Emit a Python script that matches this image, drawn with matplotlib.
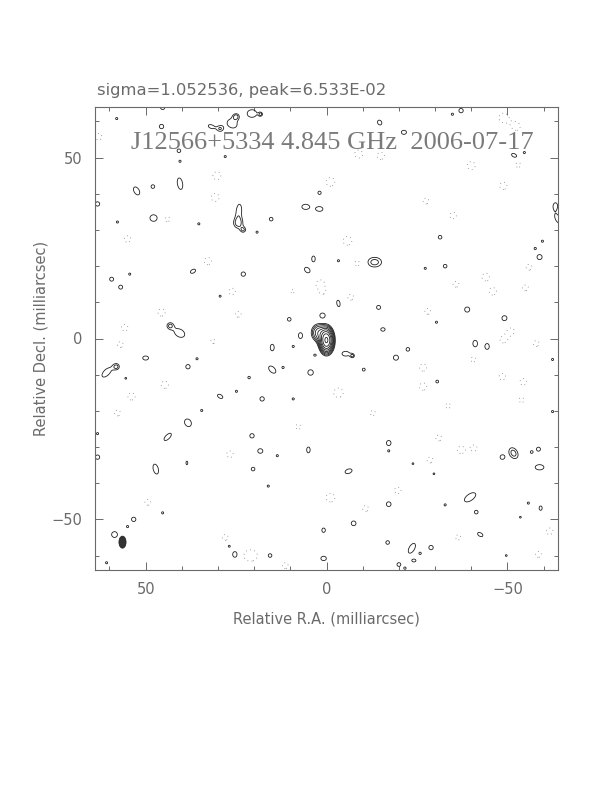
import numpy as np
import matplotlib
matplotlib.use("Agg")
import matplotlib.pyplot as plt
from matplotlib.patches import Ellipse
from matplotlib.ticker import MultipleLocator

# ---------------- data ----------------
title_text = "J12566+5334 4.845 GHz  2006-07-17"
header_text = "sigma=1.052536, peak=6.533E-02"
xlabel_text = "Relative R.A. (milliarcsec)"
ylabel_text = "Relative Decl. (milliarcsec)"

# core components: position (mas), amplitude (in units of lowest contour), FWHM (mas)
core_x = [0.0, 2.2, 3.2]
core_y = [-0.5, 1.6, -4.6]
core_amp = [17.0, 3.5, 1.25]
core_fwhm_x = [2.4, 3.0, 1.2]
core_fwhm_y = [4.3, 3.6, 1.0]

# positive noise features: centre, contour semi-major radius, axis ratio, angle, peak
pos_x = [45.3, 45.6, 31.9, 26.1, 25.0, 20.6, 29.4, 40.8, 40.5, 52.5, 48.0, 40.5, 63.3,
         24.2, 24.4, 23.0, 47.8, 35.3, 57.8, 36.9, 23.0, 59.4, 56.9, 54.4, 29.4, 43.3,
         40.6, 28.0, 58.0, 18.2,
         -14.7, -21.4, 1.9, 5.8, 1.9, 15.3, 19.2, 3.6, 5.3, -13.3, -3.3, -14.4, 1.1,
         10.3, 7.2, -15.6, -3.3,
         -37.2, -34.8, -51.9, -54.7, -63.3, -64.0, -59.7, -57.7, -58.9, -31.4, -32.8,
         -27.3, -38.9, -49.2, -30.4,
         50.0, 60.8, 58.0, 38.3, 35.8, 21.4, 29.4, 24.9, 38.3, 43.9, 20.6, 63.3, 47.2,
         38.6, 20.3, 53.3, 55.0, 58.6, 45.3, 25.3, 26.9, 63.3, 60.8, 55.5, 34.5,
         15.0, 9.2, -5.3, -7.2, -22.5, -19.2, 15.0, 12.0, 4.4, -10.3, 17.8, 9.2, 18.3,
         5.0, 13.6, -17.2, -17.2, -6.1, 16.1, -17.2, -7.5, 0.8, -16.9, 15.6, 0.8,
         -20.0, -21.7,
         -41.1, -44.4, -30.6, -62.5, -62.5, -51.7, -48.6, -56.7, -58.6, -58.9, -23.9,
         -29.7, -39.7, -41.4, -32.8, -55.8, -59.2, -53.6, -42.5, -23.6, -28.9, -25.9,
         -24.2, -49.7]
pos_y = [63.9, 58.6, 58.6, 59.4, 61.4, 62.2, 58.0, 51.9, 49.0, 40.8, 42.0, 42.8, 37.2,
         35.3, 31.8, 30.0, 33.3, 31.7, 32.2, 18.6, 17.8, 16.4, 14.2, 17.8, 11.7, 3.6,
         1.5, 50.3, 60.8, 62.0,
         59.7, 57.0, 40.3, 36.4, 35.8, 33.0, 29.4, 22.0, 18.9, 21.1, 9.7, 8.6, 6.4,
         5.3, 0.8, 2.5, 21.5,
         63.0, 62.0, 50.6, 51.4, 36.7, 33.0, 26.9, 24.9, 22.5, 28.0, 20.0,
         19.4, 8.0, 5.6, 4.5,
         -5.4, -9.4, -7.8, -7.8, -5.6, -10.8, -16.0, -14.6, -23.3, -27.2, -26.9, -32.8,
         -36.1, -34.4, -36.1, -50.0, -52.0, -54.2, -48.2, -59.7, -57.4, -26.3, -62.0,
         -11.0, -19.9,
         -2.5, -2.2, -4.2, -4.8, -3.0, -5.3, -8.6, -8.0, -9.4, -8.6, -16.7, -16.7,
         -31.1, -30.8, -32.4, -28.9, -31.1, -36.7, -40.8, -45.8, -51.1, -53.0, -56.4,
         -60.0, -60.8, -62.5, -63.5,
         -1.4, -2.2, -11.9, -5.8, -20.2, -31.7, -32.8, -31.4, -30.6, -35.6, -34.6,
         -37.4, -43.9, -48.0, -46.0, -45.5, -46.9, -49.4, -54.2, -58.0, -57.8, -59.4,
         -61.4, -60.0]
pos_r = [0.6, 0.6, 0.8, 1.4, 0.5, 1.3, 0.6, 0.5, 0.3, 1.2, 0.5, 1.6, 0.6,
         1.8, 0.9, 0.5, 1.0, 0.3, 0.3, 0.8, 0.6, 0.55, 0.55, 0.3, 0.3, 0.6,
         1.5, 0.3, 0.3, 0.3,
         0.7, 0.7, 0.5, 1.0, 0.9, 0.5, 0.3, 0.8, 0.9, 1.9, 0.9, 0.55, 0.7,
         0.5, 0.8, 0.6, 0.3,
         0.6, 0.3, 0.8, 0.3, 0.8, 1.3, 0.3, 0.3, 0.7, 0.5, 0.5,
         0.3, 0.7, 0.7, 0.3,
         0.8, 1.6, 0.55, 0.6, 0.3, 0.35, 0.8, 0.3, 1.1, 1.3, 0.6, 0.6, 1.4,
         0.5, 0.5, 0.6, 0.3, 0.8, 0.3, 0.8, 0.3, 0.3, 0.3, 0.25, 0.3,
         0.9, 0.3, 1.0, 0.35, 0.5, 0.7, 1.2, 0.3, 0.75, 0.4, 0.6, 0.3, 0.7,
         0.8, 0.3, 0.7, 0.25, 1.0, 0.3, 0.65, 0.65, 0.6, 0.5, 0.5, 0.75,
         0.5, 0.3,
         0.9, 0.8, 0.4, 0.3, 0.3, 1.6, 0.6, 0.35, 0.55, 1.2, 0.25,
         0.25, 1.8, 0.5, 0.3, 0.3, 0.6, 0.25, 0.8, 1.5, 0.6, 0.3,
         0.5, 0.25]
pos_ratio = [1, 1, 0.6, 0.8, 1, 0.8, 1, 1, 1, 0.6, 1, 0.45, 1,
             0.4, 1, 1, 0.9, 1, 1, 0.6, 1, 1, 1, 1, 1, 1,
             0.7, 1, 1, 1,
             0.8, 0.8, 1, 0.7, 0.7, 1, 1, 0.6, 0.7, 0.7, 0.5, 1, 0.9,
             1, 0.7, 0.8, 1,
             1, 1, 0.6, 1, 0.7, 0.5, 1, 1, 1, 1, 1,
             1, 1, 1, 1,
             0.7, 0.5, 1, 1, 1, 1, 0.6, 1, 0.8, 0.45, 1, 1, 0.5,
             0.5, 1, 1, 1, 1, 1, 0.8, 1, 1, 1, 1, 1,
             0.6, 1, 0.65, 1, 1, 1, 0.6, 1, 1, 1, 1, 1, 0.9,
             0.6, 1, 0.9, 1, 0.6, 1, 1, 1, 0.8, 1, 1, 0.8,
             1, 1,
             0.7, 0.75, 1, 1, 1, 0.7, 1, 1, 1, 0.6, 1,
             1, 0.5, 1, 1, 1, 0.7, 1, 0.6, 0.5, 1, 1,
             0.7, 1]
pos_angle = [0, 0, 20, 30, 0, 0, 0, 0, 0, 60, 0, 80, 0,
             95, 0, 0, 0, 0, 0, -30, 0, 0, 0, 0, 0, 0,
             30, 0, 0, 0,
             60, 0, 0, 0, 0, 0, 0, 90, 45, 0, 80, 0, 0,
             0, 90, 0, 0,
             0, 0, 30, 0, 90, 60, 0, 0, 0, 0, 0,
             0, 0, 0, 0,
             0, -45, 0, 0, 0, 0, 30, 0, 60, -45, 0, 0, 75,
             90, 0, 0, 0, 0, 0, 90, 0, 0, 0, 0, 0,
             90, 0, 0, 0, 0, 0, 45, 0, 0, 0, 0, 0, 0,
             90, 0, 90, 0, -20, 0, 0, 0, 90, 0, 0, 0,
             0, 0,
             90, 90, 0, 0, 0, 60, 0, 0, 0, 0, 0,
             0, -35, 0, 0, 0, 90, 0, 30, -60, 0, 0,
             0, 0]
pos_peak = [1.3] * len(pos_x)
pos_peak[39] = 1.65                      # feature at (-13.3, 21.1) has an inner contour
pos_peak[pos_x.index(-51.7)] = 1.65      # feature at (-51.7, -31.7) has an inner contour

# negative noise features (dotted contours)
neg_x = [30.3, 30.8, 55.0, 32.8, 45.6, 55.8, 26.1, 24.4, 63.0, 44.0,
         -1.1, -8.9, -15.0, -5.8, 1.7, -8.6, -6.7,
         -49.0, -52.5, -40.0, -48.9, -35.0, -27.5, -44.0, -46.0, -35.8, -55.0, -56.0,
         -28.0, -51.0, -53.0,
         57.0, 44.7, 53.9, 57.8, 26.7, 49.4, 21.7, 31.4, 28.0,
         -3.3, -1.1, -10.8, -12.8, 7.8, -19.7, 11.4, 20.3,
         -48.9, -58.0, -26.7, -26.7, -48.6, -54.4, -37.2, -40.6, -28.6, -61.7, -58.6,
         -36.4, -33.6, -53.9, -40.8, -31.0, 9.4, 1.1]
neg_y = [45.0, 39.0, 27.5, 21.4, 7.2, 3.0, 13.0, 6.7, 55.8, 33.0,
         43.3, 51.0, 50.5, 27.0, 15.0, 20.8, 11.4,
         61.0, 58.6, 47.8, 42.2, 34.0, 38.0, 17.0, 13.0, 15.0, 14.0, 19.7,
         7.5, 2.0, 48.0,
         -1.7, -12.8, -16.0, -20.6, -32.0, -45.3, -60.0, -0.8, -55.0,
         -15.0, -44.0, -47.0, -20.6, -24.4, -42.0, -62.8, -60.0,
         -0.3, -1.4, -8.0, -13.3, -10.6, -12.0, -30.8, -5.8, -33.6, -53.3, -59.7,
         -55.0, -18.6, -17.0, -30.3, -27.5, 13.0, 13.0]
neg_r = [1.1, 1.1, 0.9, 1.0, 1.0, 0.9, 0.9, 0.8, 0.9, 0.7,
         1.2, 1.1, 1.0, 1.2, 1.2, 0.8, 0.8,
         1.3, 1.0, 1.1, 1.0, 0.9, 0.8, 1.0, 1.0, 0.8, 0.8, 0.8,
         0.8, 0.9, 0.7,
         0.8, 1.0, 1.0, 0.8, 0.9, 0.8, 0.9, 0.6, 0.8,
         1.3, 1.2, 0.8, 0.7, 0.7, 0.9, 0.8, 0.9,
         0.9, 0.8, 1.0, 1.0, 0.9, 0.9, 1.0, 0.7, 0.8, 0.9, 0.8,
         0.7, 0.7, 0.7, 0.8, 0.8, 0.5, 0.5]

# restoring beam (mas)
beam_x, beam_y = 56.4, -56.3
beam_major, beam_minor, beam_pa = 3.3, 1.95, 0.0

contour_levels = [1.0, 1.414, 2.0, 2.83, 4.0, 5.66, 8.0, 11.3, 16.0]
neg_level = [-1.0]

# ---------------- build the map ----------------
grid = np.linspace(-64, 64, 801)
X, Y = np.meshgrid(grid, grid)
Z = np.zeros_like(X)


def add_gauss(z, x0, y0, amp, sa, sb, ang_deg):
    t = np.deg2rad(ang_deg)
    dx, dy = X - x0, Y - y0
    u = dx * np.cos(t) + dy * np.sin(t)
    v = -dx * np.sin(t) + dy * np.cos(t)
    return z + amp * np.exp(-(u ** 2 / (2 * sa ** 2) + v ** 2 / (2 * sb ** 2)))


f2s = 1.0 / (2.0 * np.sqrt(2.0 * np.log(2.0)))
for x0, y0, a, fx, fy in zip(core_x, core_y, core_amp, core_fwhm_x, core_fwhm_y):
    Z = add_gauss(Z, x0, y0, a, fx * f2s, fy * f2s, 0)

for x0, y0, r, q, ang, a in zip(pos_x, pos_y, pos_r, pos_ratio, pos_angle, pos_peak):
    sa = r / np.sqrt(2 * np.log(a / 1.0))
    Z = add_gauss(Z, x0, y0, a, sa, sa * q, ang)

na = 1.3
for x0, y0, r in zip(neg_x, neg_y, neg_r):
    sa = r / np.sqrt(2 * np.log(na))
    Z = add_gauss(Z, x0, y0, -na, sa, sa, 0)

# ---------------- draw ----------------
fig = plt.figure(figsize=(6.12, 7.92), dpi=100)
ax = fig.add_axes([95 / 612, 1 - 570 / 792, 463 / 612, 463 / 792])

ax.contour(X, Y, Z, levels=contour_levels, colors="#1e1e1e", linewidths=0.6,
           linestyles="solid")
ax.contour(X, Y, Z, levels=neg_level, colors="#808080", linewidths=0.6,
           linestyles=[(0, (1, 4))])

ax.add_patch(Ellipse((beam_x, beam_y), beam_minor, beam_major, angle=beam_pa,
                     facecolor="#333333", edgecolor="#222222", lw=0.6))

ax.set_xlim(64, -64)
ax.set_ylim(-64, 64)
ax.set_aspect("auto")

grey = "#6a6a6a"
ax.xaxis.set_major_locator(MultipleLocator(50))
ax.xaxis.set_minor_locator(MultipleLocator(10))
ax.yaxis.set_major_locator(MultipleLocator(50))
ax.yaxis.set_minor_locator(MultipleLocator(10))
ax.tick_params(which="both", direction="in", top=True, right=True, color=grey,
               width=0.7, labelcolor=grey, labelsize=10.5)
ax.tick_params(which="major", length=5.5, pad=9)
ax.tick_params(which="minor", length=3)
for s in ax.spines.values():
    s.set_color(grey)
    s.set_linewidth(0.8)

ax.set_xlabel(xlabel_text, color=grey, fontsize=10.5, labelpad=10)
ax.set_ylabel(ylabel_text, color=grey, fontsize=10.5, labelpad=2)

ax.text(0.513, 0.922, title_text, transform=ax.transAxes, ha="center", va="center",
        fontsize=19, color="#7a7a7a", family="Liberation Serif")
fig.text(97 / 612, 1 - 90 / 792, header_text, ha="left", va="center",
         fontsize=11.8, color=grey)

fig.savefig("out.png", dpi=100)
